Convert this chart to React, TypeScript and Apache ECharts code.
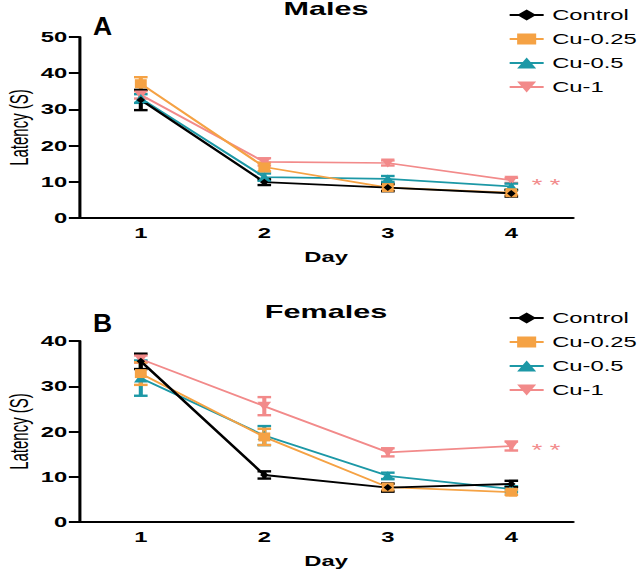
import React, { useEffect, useRef } from "react";
import * as echarts from "echarts";

// ---- data ----
const days = ["1", "2", "3", "4"];
const groups = ["Control", "Cu-0.25", "Cu-0.5", "Cu-1"];

const malesControl = [32.6, 9.9, 8.4, 6.8];
const malesControlErr = [2.8, 0.8, 1.0, 0.9];
const males025 = [37.1, 14.1, 8.4, 7.0];
const males025Err = [1.8, 1.2, 0.8, 0.6];
const males05 = [33.0, 11.3, 10.8, 8.7];
const males05Err = [1.2, 1.0, 0.8, 0.8];
const males1 = [34.0, 15.5, 15.2, 10.4];
const males1Err = [1.0, 1.0, 0.7, 0.7];

const femalesControl = [35.5, 10.4, 7.6, 8.4];
const femalesControlErr = [1.7, 0.8, 0.9, 0.7];
const females025 = [32.8, 18.8, 7.7, 6.6];
const females025Err = [2.5, 1.8, 0.7, 0.6];
const females05 = [31.8, 19.1, 10.2, 7.3];
const females05Err = [3.9, 2.1, 0.7, 0.6];
const females1 = [36.0, 25.6, 15.4, 16.8];
const females1Err = [0.8, 2.0, 0.9, 1.0];

const yTicksMales = [0, 10, 20, 30, 40, 50];
const yTicksFemales = [0, 10, 20, 30, 40];

// ---- styles ----
const S = 1.7; // horizontal stretch of the figure
const W = 376;
const H = 570;
const FONT = "'Liberation Sans', Arial, Helvetica, sans-serif";
const colors: Record<string, string> = {
  Control: "#000000",
  "Cu-0.25": "#F5A244",
  "Cu-0.5": "#1C98A6",
  "Cu-1": "#F28A8A",
};
const symbols: Record<string, any> = {
  Control: { symbol: "diamond", size: [5, 7] },
  "Cu-0.25": { symbol: "rect", size: [7, 9] },
  "Cu-0.5": { symbol: "triangle", size: [8, 9] },
  "Cu-1": { symbol: "path://M0,0 L10,0 L5,9 Z", size: [8, 9] },
};

function lineSeries(name: string, vals: number[], idx: number, star: boolean) {
  return {
    type: "line",
    name,
    xAxisIndex: idx,
    yAxisIndex: idx,
    symbol: symbols[name].symbol,
    symbolSize: symbols[name].size,
    itemStyle: { color: colors[name] },
    lineStyle: { color: colors[name], width: name === "Control" ? 1.9 : 1.7 },
    data: vals.map((v, i) =>
      star && i === vals.length - 1
        ? {
            value: v,
            label: {
              show: true,
              formatter: "* *",
              position: "right",
              distance: 8,
              offset: [0, 5],
              color: colors[name],
              fontSize: 16,
              fontFamily: FONT,
            },
          }
        : v
    ),
  };
}

function errSeries(name: string, vals: number[], errs: number[], idx: number) {
  const color = colors[name];
  return {
    type: "custom",
    xAxisIndex: idx,
    yAxisIndex: idx,
    silent: true,
    encode: { x: 0, y: [1, 2] },
    data: vals.map((v, i) => [i, v - errs[i], v + errs[i]]),
    renderItem: (params: any, api: any) => {
      const lo = api.coord([api.value(0), api.value(1)]);
      const hi = api.coord([api.value(0), api.value(2)]);
      const hw = 4;
      const st = { stroke: color, lineWidth: 2.4 };
      return {
        type: "group",
        children: [
          { type: "line", shape: { x1: lo[0], y1: lo[1], x2: hi[0], y2: hi[1] }, style: st },
          { type: "line", shape: { x1: lo[0] - hw, y1: lo[1], x2: lo[0] + hw, y2: lo[1] }, style: st },
          { type: "line", shape: { x1: hi[0] - hw, y1: hi[1], x2: hi[0] + hw, y2: hi[1] }, style: st },
        ],
      };
    },
  };
}

function xAxis(idx: number) {
  return {
    type: "category",
    gridIndex: idx,
    data: days,
    boundaryGap: true,
    name: "Day",
    nameLocation: "middle",
    nameGap: 32,
    nameMoveOverlap: false,
    nameTextStyle: { fontSize: 14, fontWeight: "bold", color: "#000", fontFamily: FONT },
    axisLine: { lineStyle: { color: "#000", width: 2 } },
    axisTick: { alignWithLabel: true, length: 6, lineStyle: { color: "#000", width: 1.8 } },
    axisLabel: { margin: 8, fontSize: 14, fontWeight: "bold", color: "#000", fontFamily: FONT },
    splitLine: { show: false },
  };
}

function yAxis(idx: number, ticks: number[]) {
  return {
    type: "value",
    gridIndex: idx,
    min: ticks[0],
    max: ticks[ticks.length - 1],
    interval: ticks[1] - ticks[0],
    name: "Latency (S)",
    nameLocation: "middle",
    nameRotate: 90,
    nameGap: 28,
    nameMoveOverlap: false,
    nameTextStyle: { fontSize: 15, color: "#000", fontFamily: FONT },
    axisLine: { show: true, lineStyle: { color: "#000", width: 1.8 } },
    axisTick: { show: true, length: 6, lineStyle: { color: "#000", width: 2 } },
    axisLabel: { margin: 7, fontSize: 14, fontWeight: "bold", color: "#000", fontFamily: FONT },
    splitLine: { show: false },
  };
}

function panelSeries(idx: number, sets: [string, number[], number[]][]) {
  const out: any[] = [];
  // draw Cu-1 first, Control last (on top)
  [...sets].reverse().forEach(([name, vals, errs]) => {
    out.push(lineSeries(name, vals, idx, name === "Cu-1"));
    out.push(errSeries(name, vals, errs, idx));
  });
  return out;
}

export default function App() {
  const ref = useRef<HTMLDivElement>(null);
  useEffect(() => {
    if (!ref.current) return;
    const chart = echarts.init(ref.current, null, { renderer: "svg" });
    const legendBase = {
      orient: "vertical",
      left: 298.8,
      itemWidth: 20,
      itemHeight: 14,
      itemGap: 10,
      data: groups,
      textStyle: { fontSize: 14, color: "#000", fontFamily: FONT },
      padding: 0,
    };
    chart.setOption({
      animation: false,
      backgroundColor: "#fff",
      title: [
        {
          text: "Males",
          left: 191.8,
          top: 0,
          textAlign: "center",
          padding: 0,
          textStyle: { fontSize: 18, fontWeight: "bold", color: "#000", fontFamily: FONT },
        },
        {
          text: "Females",
          left: 191.8,
          top: 303,
          textAlign: "center",
          padding: 0,
          textStyle: { fontSize: 18, fontWeight: "bold", color: "#000", fontFamily: FONT },
        },
      ],
      legend: [
        { ...legendBase, top: 8 },
        { ...legendBase, top: 311 },
      ],
      graphic: [
        {
          type: "text",
          left: 54.7,
          top: 13,
          scaleX: 0.6,
          style: { text: "A", fontSize: 26, fontWeight: "bold", fill: "#000", fontFamily: FONT },
        },
        {
          type: "text",
          left: 54.7,
          top: 310,
          scaleX: 0.6,
          style: { text: "B", fontSize: 26, fontWeight: "bold", fill: "#000", fontFamily: FONT },
        },
      ],
      grid: [
        { left: 46.5, top: 37, width: 290.6, height: 181, outerBoundsMode: "none", containLabel: false },
        { left: 46.5, top: 341, width: 290.6, height: 181, outerBoundsMode: "none", containLabel: false },
      ],
      xAxis: [xAxis(0), xAxis(1)],
      yAxis: [yAxis(0, yTicksMales), yAxis(1, yTicksFemales)],
      series: [
        ...panelSeries(0, [
          ["Control", malesControl, malesControlErr],
          ["Cu-0.25", males025, males025Err],
          ["Cu-0.5", males05, males05Err],
          ["Cu-1", males1, males1Err],
        ]),
        ...panelSeries(1, [
          ["Control", femalesControl, femalesControlErr],
          ["Cu-0.25", females025, females025Err],
          ["Cu-0.5", females05, females05Err],
          ["Cu-1", females1, females1Err],
        ]),
      ],
    });
    return () => chart.dispose();
  }, []);
  return (
    <div
      ref={ref}
      style={{
        position: "absolute",
        left: 0,
        top: 0,
        width: W,
        height: H,
        transform: `scaleX(${S})`,
        transformOrigin: "0 0",
        background: "#fff",
      }}
    />
  );
}
